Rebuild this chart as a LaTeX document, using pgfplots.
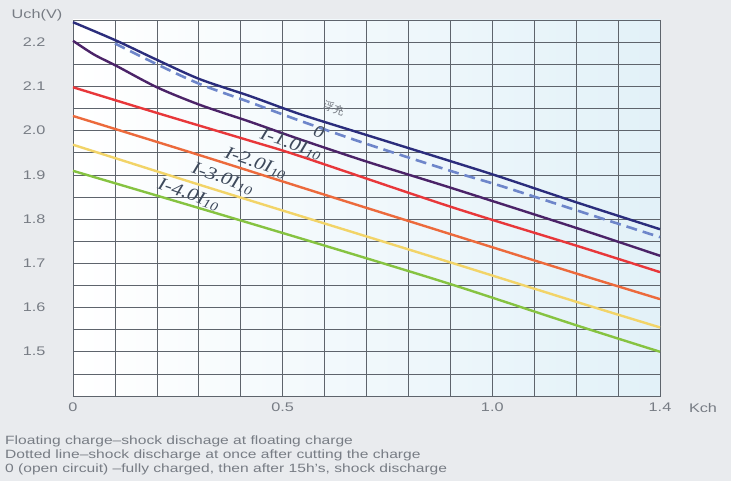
\documentclass[border=0pt]{standalone}
\usepackage{pgfplots}
\pgfplotsset{compat=1.18}
\usepackage{fontspec}
\setmainfont{Liberation Sans}[FakeStretch=1.3]
\newfontfamily\serifit{Liberation Serif}[FakeStretch=1.2]
\newfontfamily\cjk{Noto Sans CJK SC}
\definecolor{bgc}{HTML}{E9EBEE}
\definecolor{plotr}{HTML}{E2F1F8}
\definecolor{gridc}{HTML}{5E646C}
\definecolor{tickc}{HTML}{777C84}
\definecolor{navyc}{HTML}{2B2D7C}
\definecolor{dashc}{HTML}{6E86CA}
\definecolor{purpc}{HTML}{4B2368}
\definecolor{redc}{HTML}{E8373A}
\definecolor{orangec}{HTML}{EC6A3C}
\definecolor{yellowc}{HTML}{F2D468}
\definecolor{greenc}{HTML}{86C341}
\definecolor{labc}{HTML}{3E4A5C}
\begin{document}
\begin{tikzpicture}
\path[use as bounding box] (-73pt,-85pt) rectangle (658pt,396pt);
\fill[bgc] (-73pt,-85pt) rectangle (658pt,396pt);
\begin{axis}[
  at={(0pt,0pt)}, anchor=south west,
  scale only axis, width=587pt, height=376pt,
  xmin=0, xmax=1.4, ymin=1.4, ymax=2.25,
  xtick={0,0.1,0.2,0.3,0.4,0.5,0.6,0.7,0.8,0.9,1.0,1.1,1.2,1.3,1.4},
  xticklabels={0,,,,,0.5,,,,,1.0,,,,1.4},
  ytick={1.4,1.45,1.5,1.55,1.6,1.65,1.7,1.75,1.8,1.85,1.9,1.95,2.0,2.05,2.1,2.15,2.2,2.25},
  yticklabels={,,1.5,,1.6,,1.7,,1.8,,1.9,,2.0,,2.1,,2.2,},
  major tick length=0pt,
  grid=major,
  grid style={gridc, line width=0.6pt},
  axis line style={gridc, line width=0.8pt},
  axis background/.style={left color=white, right color=plotr},
  ticklabel style={font=\fontsize{12.5}{14}\selectfont, text=tickc},
  yticklabel style={xshift=-24pt},
  xticklabel style={yshift=-3pt},
  every axis plot/.append style={line width=2.4pt, smooth, no markers},
  clip=false,
]
\addplot[navyc] coordinates {(0,2.245) (0.104,2.203) (0.2,2.16) (0.303,2.116) (0.422,2.078) (0.542,2.037) (0.7,1.99) (0.9,1.931) (1.02,1.895) (1.2,1.838) (1.4,1.777)};
\addplot[dashc, line width=2.6pt, dash pattern=on 11pt off 6pt] coordinates {(0.1,2.197) (0.2,2.15) (0.303,2.105) (0.422,2.064) (0.542,2.022) (0.7,1.97) (0.9,1.909) (1.02,1.875) (1.2,1.82) (1.4,1.759)};
\addplot[purpc] coordinates {(0,2.203) (0.05,2.172) (0.104,2.146) (0.2,2.098) (0.303,2.058) (0.422,2.02) (0.542,1.98) (0.7,1.93) (0.9,1.871) (1.2,1.78) (1.4,1.717)};
\addplot[redc] coordinates {(0,2.098) (0.2,2.04) (0.422,1.977) (0.542,1.942) (0.9,1.828) (1.2,1.74) (1.4,1.68)};
\addplot[orangec] coordinates {(0,2.033) (0.3,1.945) (0.6,1.855) (0.9,1.766) (1.2,1.677) (1.4,1.619)};
\addplot[yellowc] coordinates {(0,1.968) (0.3,1.878) (0.6,1.79) (0.9,1.702) (1.2,1.613) (1.4,1.555)};
\addplot[greenc] coordinates {(0,1.909) (0.3,1.825) (0.6,1.74) (0.9,1.653) (1.2,1.56) (1.4,1.50)};
\node[rotate=-19, text=tickc, font=\cjk\fontsize{11}{11}\selectfont] at (axis cs:0.622,2.05) {浮充};
\node[rotate=-19, text=labc, font=\serifit\itshape\fontsize{17}{17}\selectfont] at (axis cs:0.587,1.996) {0};
\node[rotate=-19, inner sep=0pt, text=labc, font=\serifit\itshape\fontsize{18}{18}\selectfont] at (axis cs:0.52,1.969) {I-1.0I\textsubscript{10}};
\node[rotate=-19, inner sep=0pt, text=labc, font=\serifit\itshape\fontsize{18}{18}\selectfont] at (axis cs:0.436,1.926) {I-2.0I\textsubscript{10}};
\node[rotate=-19, inner sep=0pt, text=labc, font=\serifit\itshape\fontsize{18}{18}\selectfont] at (axis cs:0.357,1.891) {I-3.0I\textsubscript{10}};
\node[rotate=-19, inner sep=0pt, text=labc, font=\serifit\itshape\fontsize{18}{18}\selectfont] at (axis cs:0.276,1.855) {I-4.0I\textsubscript{10}};
\end{axis}
\node[text=tickc, font=\fontsize{12.5}{14}\selectfont] at (-36pt,381pt) {Uch(V)};
\node[text=tickc, font=\fontsize{12.5}{14}\selectfont] at (630pt,-12pt) {Kch};
\begin{scope}[every node/.style={anchor=west, text=tickc, inner sep=0pt, font=\fontsize{12}{13}\selectfont}]
\node at (-68pt,-45pt) {Floating charge--shock dischage at floating charge};
\node at (-68pt,-59pt) {Dotted line--shock discharge at once after cutting the charge};
\node at (-68pt,-73pt) {0 (open circuit) --fully charged, then after 15h's, shock discharge};
\end{scope}
\end{tikzpicture}
\end{document}
